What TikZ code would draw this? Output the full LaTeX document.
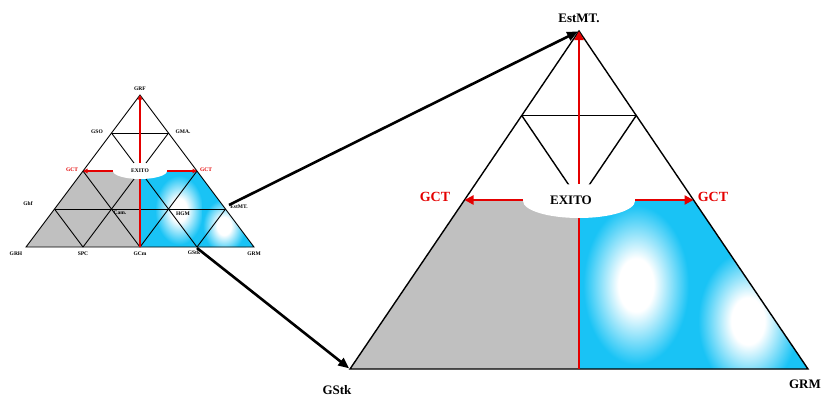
\documentclass[tikz,border=0pt]{standalone}
\usepackage{fontspec}
\setmainfont{Liberation Serif}
\usetikzlibrary{arrows.meta,shapes.geometric}
\definecolor{skyB}{RGB}{25,195,245}
\definecolor{grayF}{RGB}{192,192,192}
\definecolor{redA}{RGB}{228,0,0}
\pgfdeclareradialshading{pillow}{\pgfpoint{0bp}{0bp}}{color(0bp)=(white); color(8bp)=(white); color(24bp)=(skyB); color(50bp)=(skyB)}
\begin{document}
\begin{tikzpicture}[x=1pt,y=-1pt,
  smlab/.style={font=\bfseries\fontsize{5.5}{6}\selectfont, inner sep=0pt},
  biglab/.style={font=\bfseries\fontsize{13}{14}\selectfont, inner sep=0pt},
  redlab/.style={text=redA},
  smline/.style={line width=0.9pt, black},
  bigline/.style={line width=1.4pt, black},
  smred/.style={redA, line width=1.4pt, -{Triangle[length=4.5pt,width=4.5pt]}},
  bigred/.style={redA, line width=2.6pt, -{Triangle[length=9pt,width=9pt]}},
  blackarrow/.style={line width=2.6pt, black, -{Triangle[length=11pt,width=9pt]}},
  exitoshape/.style={ellipse, fill=white, draw=none, inner sep=0pt}
]
\useasboundingbox (0,0) rectangle (822,397);

% ---------- small triangle coordinates ----------
\coordinate (s00) at (140,95);
\coordinate (s10) at (111.5,133);
\coordinate (s11) at (168.5,133);
\coordinate (s20) at (83,171);
\coordinate (s21) at (140,171);
\coordinate (s22) at (197,171);
\coordinate (s30) at (54.5,209);
\coordinate (s31) at (111.5,209);
\coordinate (s32) at (168.5,209);
\coordinate (s33) at (225.5,209);
\coordinate (s40) at (26,247);
\coordinate (s41) at (83,247);
\coordinate (s42) at (140,247);
\coordinate (s43) at (197,247);
\coordinate (s44) at (254,247);

% ---------- big triangle coordinates ----------
\coordinate (b00) at (579,31);
\coordinate (b10) at (521.75,115.5);
\coordinate (b11) at (636.25,115.5);
\coordinate (b20) at (464.5,200);
\coordinate (b21) at (579,200);
\coordinate (b22) at (693.5,200);
\coordinate (b40) at (350,369);
\coordinate (b42) at (579,369);
\coordinate (b44) at (808,369);

% ---------- small fills ----------
\fill[grayF] (s20) -- (s21) -- (s42) -- (s40) -- cycle;
\begin{scope}
  \clip (s21) -- (s22) -- (s44) -- (s42) -- cycle;
  \fill[skyB] (s21) -- (s22) -- (s44) -- (s42) -- cycle;
  \shade[shading=pillow] (154,174) rectangle (204,246);
  \shade[shading=pillow] (202,198) rectangle (246,254);
\end{scope}

% ---------- small lattice ----------
\draw[smline] (s40) -- (s00) -- (s44) -- cycle;
\draw[smline] (s10) -- (s11);
\draw[smline] (s30) -- (s33);
\draw[smline] (s41) -- (s11);
\draw[smline] (s42) -- (s22);
\draw[smline] (s43) -- (s33);
\draw[smline] (s43) -- (s10);
\draw[smline] (s42) -- (s20);
\draw[smline] (s41) -- (s30);

\draw[smred] (s42) -- (s00);
\node[exitoshape, minimum width=54pt, minimum height=16pt] (sEx) at (s21) {};
\draw[smred] (sEx.west) -- (s20);
\draw[smred] (sEx.east) -- (s22);

% ---------- big fills ----------
\fill[grayF] (b20) -- (b21) -- (b42) -- (b40) -- cycle;
\begin{scope}
  \clip (b21) -- (b22) -- (b44) -- (b42) -- cycle;
  \fill[skyB] (b21) -- (b22) -- (b44) -- (b42) -- cycle;
  \shade[shading=pillow] (581,202) rectangle (691,368);
  \shade[shading=pillow] (696,248) rectangle (800,394);
\end{scope}

% ---------- big lines ----------
\draw[bigline] (b40) -- (b00) -- (b44) -- cycle;
\draw[bigline] (b10) -- (b11);
\draw[bigline] (b10) -- (b21);
\draw[bigline] (b11) -- (b21);

\draw[bigred] (b42) -- (b00);
\node[exitoshape, minimum width=112pt, minimum height=34pt] (bEx) at (579,201) {};
\draw[bigred] (bEx.west |- b20) -- (b20);
\draw[bigred] (bEx.east |- b22) -- (b22);

% ---------- small labels ----------
\node[smlab] (lGRF) at (140,89) {GRF};
\node[smlab] (lGSO) at (97,132) {GSO};
\node[smlab] (lGMA) at (183,132) {GMA.};
\node[smlab, redlab] (lGCTa) at (72,170) {GCT};
\node[smlab, redlab] (lGCTb) at (206,170) {GCT};
\node[smlab] (lEX) at (140,171) {EXITO};
\node[smlab] (lGhf) at (28,204) {Ghf};
\node[smlab] (lCam) at (120,213) {Cam.};
\node[smlab] (lHGM) at (183,214) {HGM};
\node[smlab] (lEst) at (239,207) {EstMT.};
\node[smlab] (lGRH) at (16,254) {GRH};
\node[smlab] (lSPC) at (83,254) {SPC};
\node[smlab] (lGCm) at (140,254) {GCm};
\node[smlab] (lGStk) at (194,253) {GStk};
\node[smlab] (lGRM) at (254,254) {GRM};

% ---------- big labels ----------
\node[biglab] (LEst) at (579,18) {EstMT.};
\node[biglab, redlab, font=\bfseries\fontsize{14}{15}\selectfont] (LGCTa) at (435,197) {GCT};
\node[biglab, redlab, font=\bfseries\fontsize{14}{15}\selectfont] (LGCTb) at (713,197) {GCT};
\node[biglab] (LEX) at (571,200) {EXITO};
\node[biglab] (LGStk) at (337,390) {GStk};
\node[biglab, anchor=east] (LGRM) at (821,384) {GRM};

% ---------- connecting arrows ----------
\coordinate (smEst) at (229,205);
\coordinate (smGStk) at (197,248);
\draw[blackarrow, shorten >=1pt] (smEst) -- (b00);
\draw[blackarrow, shorten >=1pt] (smGStk) -- (b40);
\end{tikzpicture}
\end{document}
